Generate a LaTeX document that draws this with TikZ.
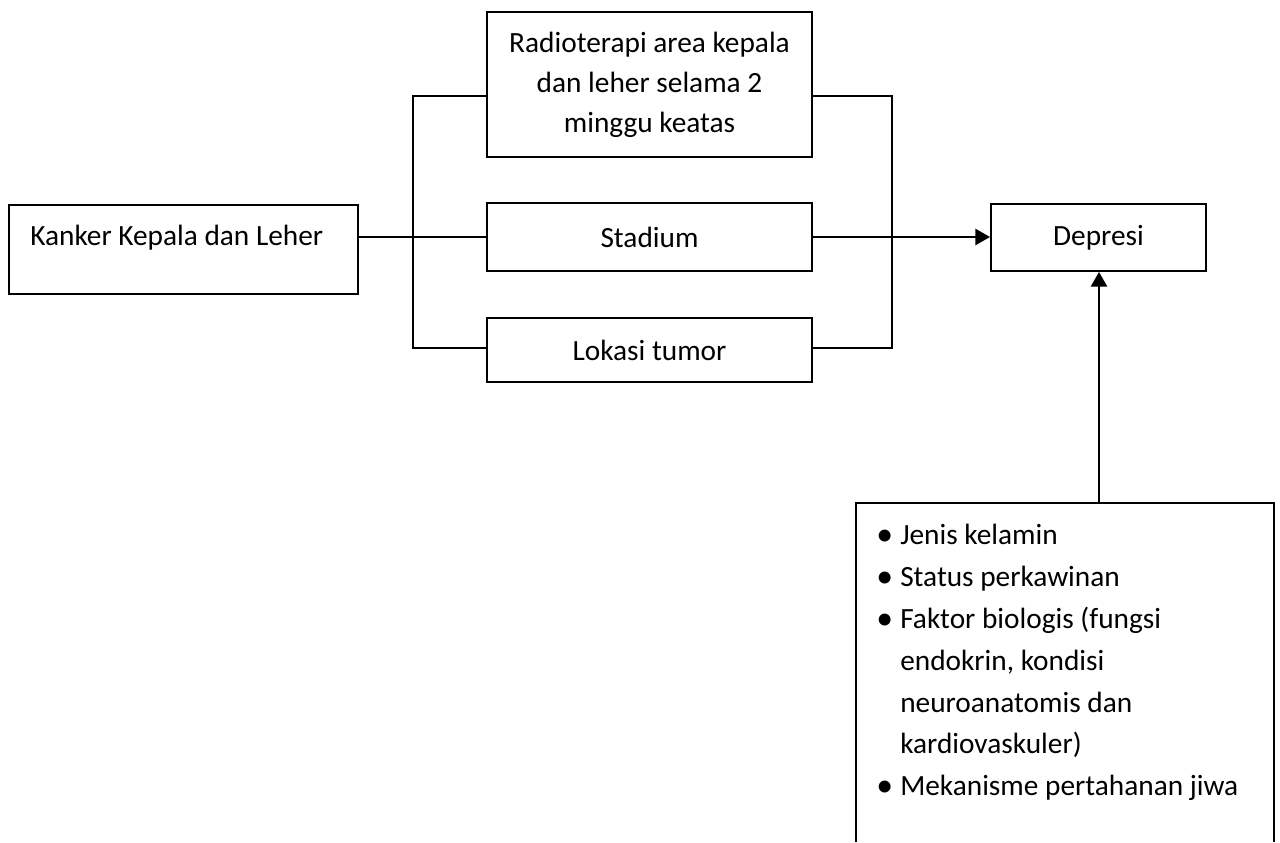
\documentclass[tikz,border=0pt]{standalone}
\usepackage{fontspec}
\usepackage{graphicx}
\setmainfont{Carlito}
\usetikzlibrary{arrows.meta}
\newcommand\mybul{\makebox[18pt][l]{\raisebox{-0.03em}{\scalebox{1.15}{\textbullet}}}}
\begin{document}
\begin{tikzpicture}[x=0.75pt,y=-0.75pt,
  box/.style={draw,line width=1.4pt,rectangle,inner sep=0pt,align=center,font=\fontsize{22}{30}\selectfont},
  link/.style={line width=1.2pt},
  arrowlink/.style={line width=1.8pt,-{Triangle[length=11pt,width=12pt]}},
  txt/.style={inner sep=0pt,font=\fontsize{22}{30}\selectfont}]
\useasboundingbox[fill=white] (0,0) rectangle (1280,842);
% boxes
\node[box,minimum width=349*0.75pt,minimum height=89*0.75pt] (kanker) at (183.5,249.5) {};
\node[txt,anchor=base west] (kankertext) at (30,245) {Kanker Kepala dan Leher};
\node[box,minimum width=325*0.75pt,minimum height=145*0.75pt] (radio) at (649.5,84.5)
  {Radioterapi area kepala\\dan leher selama 2\\minggu keatas};
\node[box,minimum width=325*0.75pt,minimum height=68*0.75pt] (stadium) at (649.5,237) {Stadium};
\node[box,minimum width=325*0.75pt,minimum height=64*0.75pt] (lokasi) at (649.5,350) {Lokasi tumor};
\node[box,minimum width=215*0.75pt,minimum height=67*0.75pt] (depresi) at (1098.5,237.5) {Depresi};
% open factor box
\coordinate (fbl) at (856,842);
\coordinate (ftl) at (856,503);
\coordinate (ftr) at (1274,503);
\coordinate (fbr) at (1274,842);
\coordinate (ftop) at (1099,503);
\draw[line width=1.4pt] (fbl) -- (ftl) -- (ftr) -- (fbr);
\node[txt,anchor=north west,align=left,font=\fontsize{22}{31.4}\selectfont] (faktor) at (876,524)
  {\mybul Jenis kelamin\\
   \mybul Status perkawinan\\
   \mybul Faktor biologis (fungsi\\
   \hspace*{18pt}endokrin, kondisi\\
   \hspace*{18pt}neuroanatomis dan\\
   \hspace*{18pt}kardiovaskuler)\\
   \mybul Mekanisme pertahanan jiwa};
% connectors
\coordinate (lt) at (413,96);
\coordinate (lb) at (413,348);
\coordinate (rt) at (892,96);
\coordinate (rb) at (892,348);
\draw[link] (kanker.east |- stadium.west) -- (stadium.west);
\draw[link] (radio.west |- lt) -- (lt) -- (lb) -- (lokasi.west |- lb);
\draw[link] (radio.east |- rt) -- (rt) -- (rb) -- (lokasi.east |- rb);
\draw[arrowlink] (stadium.east) -- (stadium.east -| depresi.west);
\draw[arrowlink] (ftop) -- (ftop |- depresi.south);
\end{tikzpicture}
\end{document}
